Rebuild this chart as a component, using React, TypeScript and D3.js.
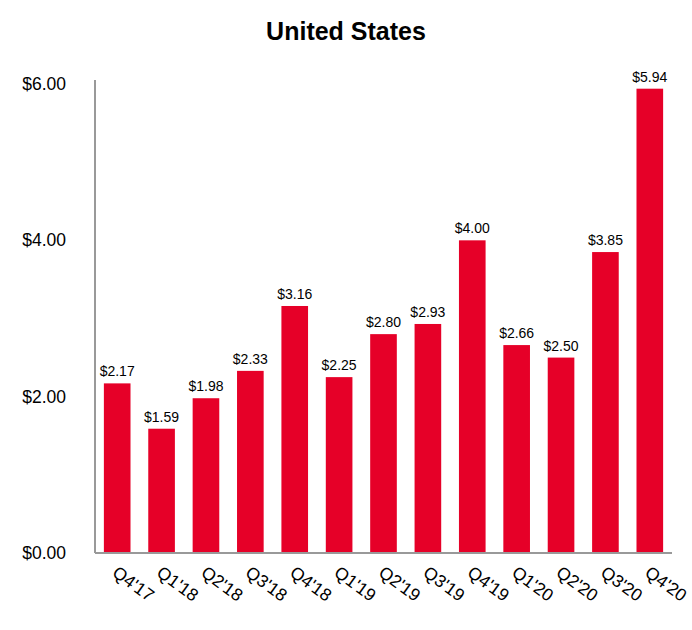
import React from "react";
import * as d3 from "d3";

const categories = ["Q4'17", "Q1'18", "Q2'18", "Q3'18", "Q4'18", "Q1'19", "Q2'19", "Q3'19", "Q4'19", "Q1'20", "Q2'20", "Q3'20", "Q4'20"];
const values = [2.17, 1.59, 1.98, 2.33, 3.16, 2.25, 2.8, 2.93, 4.0, 2.66, 2.5, 3.85, 5.94];
const yTicks = [0, 2, 4, 6];

const W = 692;
const H = 630;
const left = 95;
const right = 672;
const top = 84;
const bottom = 553;
const FONT = "'Liberation Sans', Arial, sans-serif";
const RED = "#E60028";

export default function App() {
  const x = d3.scaleBand<string>().domain(categories).range([left, right]).paddingInner(0.4).paddingOuter(0.2);
  const y = d3.scaleLinear().domain([0, 6]).range([bottom, top]);
  const fmt = (v: number) => "$" + v.toFixed(2);
  return (
    <svg width={W} height={H} style={{ position: "absolute", left: 0, top: 0 }} fontFamily={FONT}>
      <text x={346} y={40} textAnchor="middle" fontSize={25} fontWeight="bold" fill="#000">United States</text>
      {categories.map((c, i) => (
        <g key={c}>
          <rect x={x(c)} y={y(values[i])} width={x.bandwidth()} height={bottom - y(values[i])} fill={RED} />
          <text x={(x(c) as number) + x.bandwidth() / 2} y={y(values[i]) - 7} textAnchor="middle" fontSize={14} fill="#000">{fmt(values[i])}</text>
          <text transform={`translate(${(x(c) as number) + x.bandwidth() / 2 - 6},${bottom + 22}) rotate(36)`} fontSize={17.5} fill="#000">{c}</text>
        </g>
      ))}
      {yTicks.map((t) => (
        <text key={t} x={66} y={y(t) + 6} textAnchor="end" fontSize={17.5} fill="#000">{fmt(t)}</text>
      ))}
      <line x1={left} x2={left} y1={80} y2={bottom} stroke="#999" strokeWidth={2} />
      <line x1={left} x2={right} y1={bottom} y2={bottom} stroke="#999" strokeWidth={2} />
    </svg>
  );
}
